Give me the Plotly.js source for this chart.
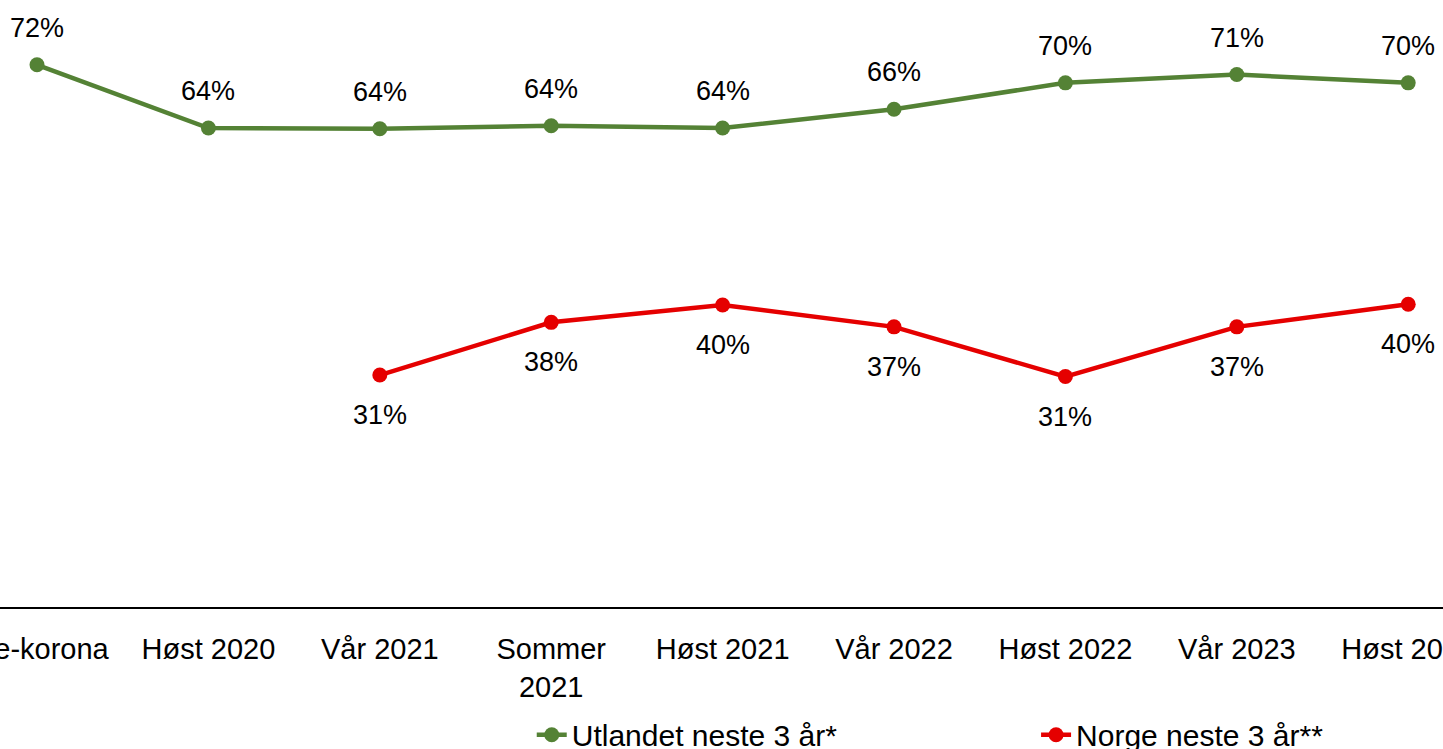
<!DOCTYPE html>
<html>
<head>
<meta charset="utf-8">
<script src="https://cdn.plot.ly/plotly-3.0.1.min.js"></script>
<style>html,body{margin:0;padding:0;background:#fff;}#chart{width:1443px;height:749px;}</style>
</head>
<body>
<div id="chart"></div>
<script>
const categories = ["Pre-korona", "Høst 2020", "Vår 2021", "Sommer<br>2021", "Høst 2021", "Vår 2022", "Høst 2022", "Vår 2023", "Høst 2023"];
const utlandet = [72, 63.6, 63.5, 63.9, 63.6, 66.1, 69.6, 70.7, 69.6];
const norge = [null, null, 30.8, 37.8, 40.1, 37.2, 30.6, 37.2, 40.2];
const seriesNames = ["Utlandet neste 3 år*", "Norge neste 3 år**"];

const green = "#548235", red = "#E50000";
const fontFam = "Arial, 'Liberation Sans', sans-serif";

const traces = [
  {x: categories, y: utlandet, name: seriesNames[0], type: "scatter", mode: "lines+markers",
   line: {color: green, width: 4.5}, marker: {color: green, size: 15}, hoverinfo: "skip", legend: "legend"},
  {x: categories, y: norge, name: seriesNames[1], type: "scatter", mode: "lines+markers",
   line: {color: red, width: 4.5}, marker: {color: red, size: 15}, connectgaps: false, hoverinfo: "skip", legend: "legend2"}
];

const annotations = [];
categories.forEach((c, i) => {
  if (utlandet[i] != null) annotations.push({x: c, y: utlandet[i], xref: "x", yref: "y",
    text: Math.round(utlandet[i]) + "%", showarrow: false, yshift: 37,
    font: {family: fontFam, size: 27, color: "#000"}});
  if (norge[i] != null) annotations.push({x: c, y: norge[i], xref: "x", yref: "y",
    text: Math.round(norge[i]) + "%", showarrow: false, yshift: -40,
    font: {family: fontFam, size: 27, color: "#000"}});
});

const legendBase = {orientation: "h", xanchor: "left", yref: "container", y: 0.019, yanchor: "middle",
  font: {family: fontFam, size: 30, color: "#000"}, bgcolor: "rgba(0,0,0,0)", itemclick: false};

const layout = {
  width: 1443, height: 749,
  margin: {l: 0, r: 0, t: 0, b: 142, pad: 0},
  paper_bgcolor: "#fff", plot_bgcolor: "#fff",
  font: {family: fontFam, color: "#000"},
  showlegend: true,
  legend: Object.assign({}, legendBase, {x: 0.3685}),
  legend2: Object.assign({}, legendBase, {x: 0.718}),
  xaxis: {type: "category", range: [-0.216, 8.203], showline: true, linecolor: "#000", linewidth: 1.5,
    showgrid: false, zeroline: false, ticks: "", ticklabelstandoff: 16,
    tickfont: {family: fontFam, size: 29, color: "#000"}, fixedrange: true},
  yaxis: {range: [0, 80.6], visible: false, showgrid: false, zeroline: false, fixedrange: true},
  annotations: annotations
};

Plotly.newPlot("chart", traces, layout, {displayModeBar: false, staticPlot: true});
</script>
</body>
</html>
